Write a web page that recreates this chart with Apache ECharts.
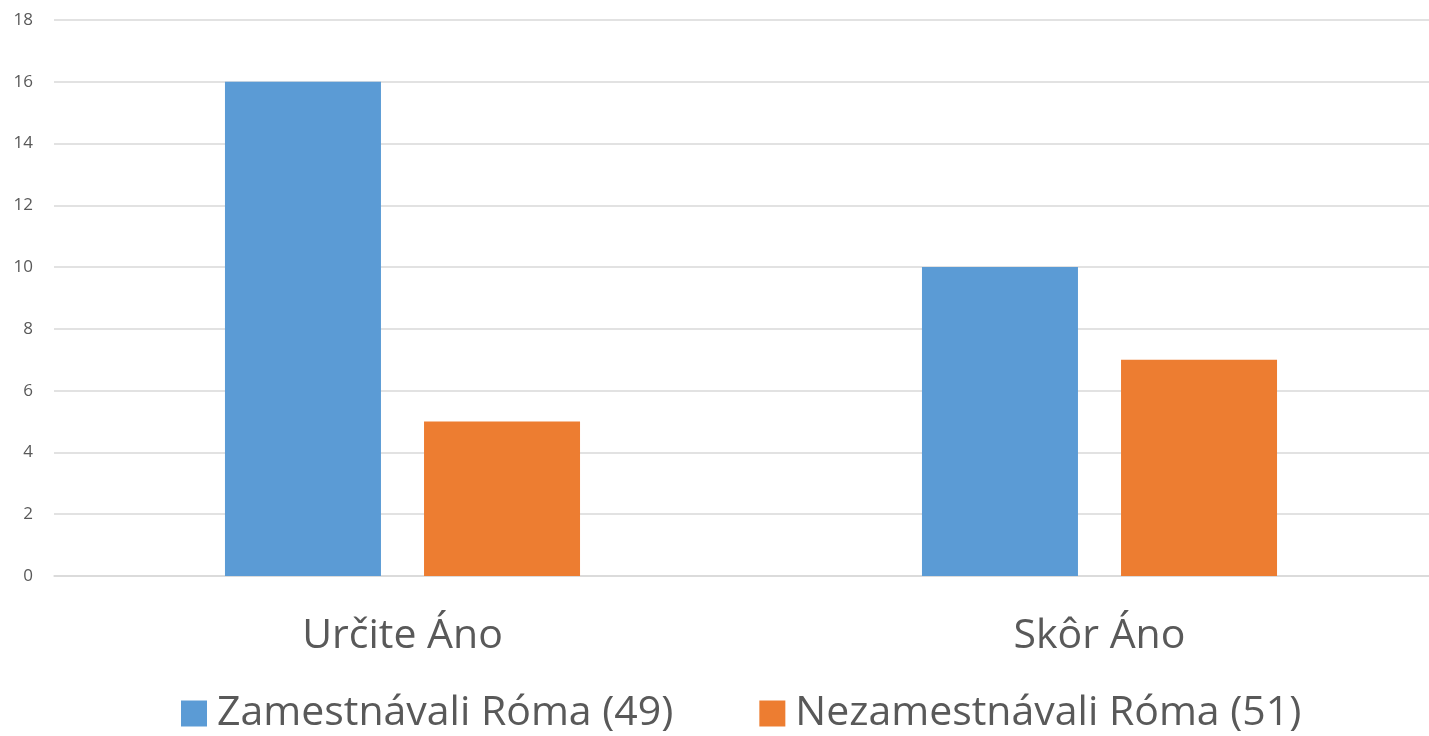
<!DOCTYPE html>
<html>
<head>
<meta charset="utf-8">
<script src="https://cdn.jsdelivr.net/npm/echarts@6/dist/echarts.min.js"></script>
<style>
  html, body { margin: 0; padding: 0; background: #fff; }
  #chart { width: 1429px; height: 736px; }
</style>
</head>
<body>
<div id="chart"></div>
<script>
// kategórie a hodnoty
var categories = ['Určite Áno', 'Skôr Áno']
var seriesNames = ['Zamestnávali Róma (49)', 'Nezamestnávali Róma (51)']
var zamestnavali = [16, 10]
var nezamestnavali = [5, 7]

var myChart = echarts.init(document.getElementById('chart'))
var font = 'Open Sans'
var option = {
  animation: false,
  color: ['#5B9BD5', '#ED7D31'],
  grid: {
    top: 20,
    left: 54,
    width: 1394,
    bottom: 160,
    outerBoundsMode: 'none'
  },
  legend: {
    data: seriesNames,
    top: 688,
    left: 176,
    icon: 'rect',
    itemWidth: 26,
    itemHeight: 26,
    itemGap: 86,
    textStyle: {
      fontFamily: font,
      fontSize: 41,
      color: '#595959',
      padding: [0, 0, 0, 5]
    }
  },
  xAxis: {
    type: 'category',
    data: categories,
    axisLine: { show: true, lineStyle: { color: '#d9d9d9', width: 1.5 } },
    axisTick: { show: false },
    axisLabel: {
      margin: 40,
      fontFamily: font,
      fontSize: 41,
      color: '#595959'
    }
  },
  yAxis: {
    type: 'value',
    min: 0,
    max: 18,
    interval: 2,
    axisLine: { show: false },
    axisTick: { show: false },
    splitLine: { lineStyle: { color: '#d9d9d9', width: 1.5 } },
    axisLabel: {
      margin: 21,
      fontFamily: font,
      fontSize: 17,
      color: '#595959'
    }
  },
  series: [
    {
      name: seriesNames[0],
      type: 'bar',
      data: zamestnavali,
      barWidth: 156,
      barGap: '27.6%'
    },
    {
      name: seriesNames[1],
      type: 'bar',
      data: nezamestnavali,
      barWidth: 156,
      barGap: '27.6%'
    }
  ]
}
option && myChart.setOption(option)
</script>
</body>
</html>
